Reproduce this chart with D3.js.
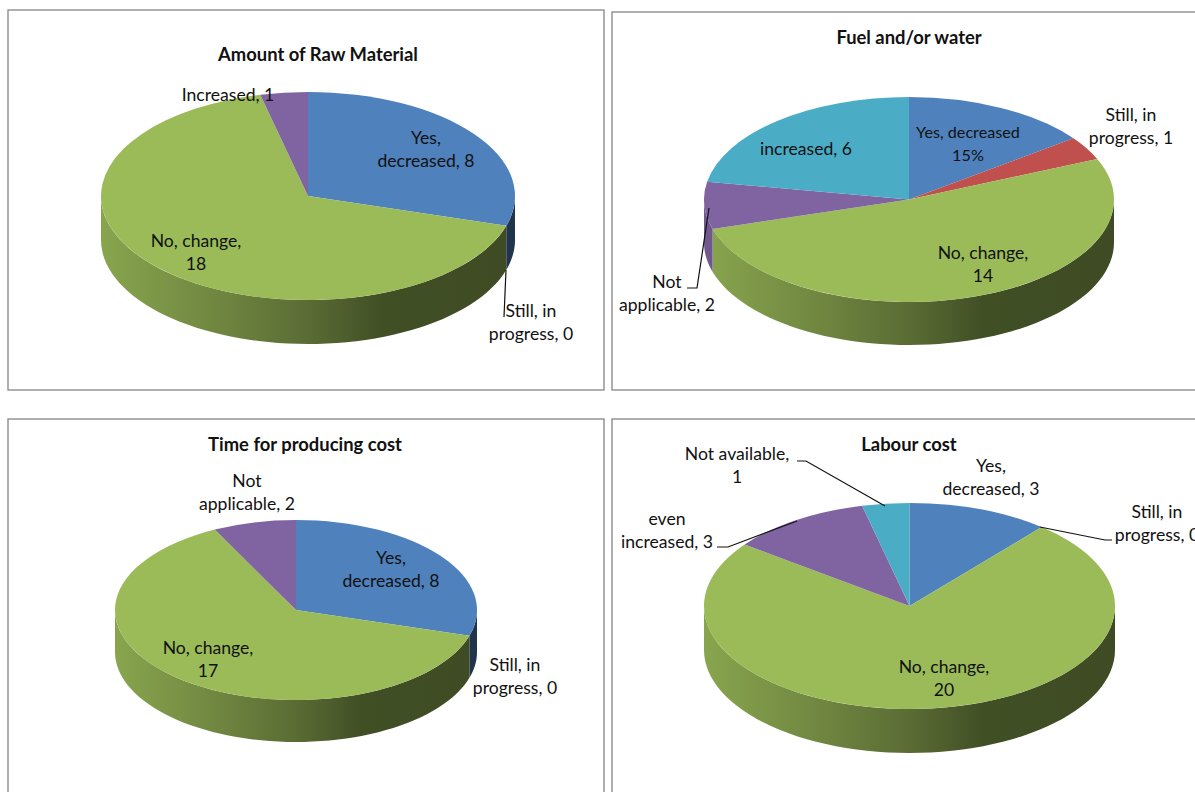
<!DOCTYPE html>
<html><head><meta charset="utf-8">
<script src="https://cdn.jsdelivr.net/npm/d3@7"></script>
<style>html,body{margin:0;padding:0;background:#fff;overflow:hidden}svg{display:block}text{font-family:Lato,"Noto Sans",sans-serif;fill:#111}</style>
</head><body>
<svg id="c" width="1195" height="792"></svg>
<script>
// ---- data ----
const titles = ["Amount of Raw Material", "Fuel and/or water", "Time for producing cost", "Labour cost"];
const categories1 = ["Yes, decreased", "Still, in progress", "No, change", "Increased"];
const values1 = [8, 0, 18, 1];
const categories2 = ["Yes, decreased", "Still, in progress", "No, change", "Not applicable", "increased"];
const values2 = [4, 1, 14, 2, 6];
const categories3 = ["Yes, decreased", "Still, in progress", "No, change", "Not applicable"];
const values3 = [8, 0, 17, 2];
const categories4 = ["Yes, decreased", "Still, in progress", "No, change", "even increased", "Not available"];
const values4 = [3, 0, 20, 3, 1];
const labels1 = [["Yes,", "decreased, 8"], ["Still, in", "progress, 0"], ["No, change,", "18"], ["Increased, 1"]];
const labels2 = [["Yes, decreased", "15%"], ["Still, in", "progress, 1"], ["No, change,", "14"], ["Not", "applicable, 2"], ["increased, 6"]];
const labels3 = [["Yes,", "decreased, 8"], ["Still, in", "progress, 0"], ["No, change,", "17"], ["Not", "applicable, 2"]];
const labels4 = [["Yes,", "decreased, 3"], ["Still, in", "progress, 0"], ["No, change,", "20"], ["even", "increased, 3"], ["Not available,", "1"]];
const sliceColors1 = ["#4f81bd", "#c0504d", "#9bbb59", "#8064a2"];
const sliceColors2 = ["#4f81bd", "#c0504d", "#9bbb59", "#8064a2", "#4bacc6"];

// ---- layout ----
const panels = [
 {box:[8,10,596,380], cx:308, cy:196, rx:207, ry:104, depth:44, title:[318,61], cats:categories1, vals:values1, labels:labels1, colors:sliceColors1,
  pos:[[426,144],[531,317],[196,247],[228,101]],
  leaders:[[[506,270],[504,317]]]},
 {box:[612,12,600,378], cx:909, cy:199.5, rx:205, ry:102.5, depth:43, title:[909,44], cats:categories2, vals:values2, labels:labels2, colors:sliceColors2,
  pos:[[968,138,16.2],[1131,121],[983,259],[667,288],[806,155]],
  leaders:[[[709,208],[697,288],[687,288]]]},
 {box:[8,419,596,400], cx:296, cy:610, rx:181, ry:90, depth:42, title:[305,451], cats:categories3, vals:values3, labels:labels3, colors:sliceColors1,
  pos:[[391,564],[515,671],[208,654],[247,487]],
  leaders:[]},
 {box:[612,419,600,400], cx:909.5, cy:606, rx:205.5, ry:103, depth:44, title:[909,451], cats:categories4, vals:values4, labels:labels4, colors:sliceColors2,
  pos:[[991,472],[1157,518],[944,673],[667,525],[737,460]],
  leaders:[[[1040,527],[1105,540],[1112,540]],[[717,547],[728,547],[797,521]],[[797,461],[806,461],[885,506]]]}
];

const svg = d3.select("#c");
const defs = svg.append("defs");
const pie = d3.pie().sort(null).value(d => d);
const HALF = Math.PI;

function shade(col, k){ const c = d3.rgb(col); return d3.rgb(c.r*k, c.g*k, c.b*k).formatHex(); }

panels.forEach((p, pi) => {
  const g = svg.append("g");
  g.append("rect").attr("x",p.box[0]).attr("y",p.box[1]).attr("width",p.box[2]).attr("height",p.box[3])
    .attr("fill","#fff").attr("stroke","#8e8e8e").attr("stroke-width",1.4);

  const arcs = pie(p.vals);
  const X = a => p.cx + p.rx*Math.sin(a);
  const Y = a => p.cy - p.ry*Math.cos(a);

  // side wall: only the part of each slice facing the viewer (90deg..270deg)
  const sideG = g.append("g");
  arcs.forEach((s, i) => {
    const a0 = Math.max(s.startAngle, HALF/2), a1 = Math.min(s.endAngle, HALF*1.5);
    if (a1 <= a0) return;
    const id = `g${pi}_${i}`;
    const col = p.colors[i];
    const lg = defs.append("linearGradient").attr("id",id).attr("gradientUnits","userSpaceOnUse")
      .attr("x1",p.cx-p.rx).attr("x2",p.cx+p.rx).attr("y1",0).attr("y2",0);
    [[0,.88],[.25,.74],[.5,.58],[.68,.42],[1,.40]].forEach(([o,k]) =>
      lg.append("stop").attr("offset",o).attr("stop-color",shade(col,k)));
    const ang = d3.range(0,61).map(t => a0 + (a1-a0)*t/60);
    const top = ang.map(a => [X(a),Y(a)]);
    const bot = ang.slice().reverse().map(a => [X(a),Y(a)+p.depth]);
    sideG.append("path").attr("d", d3.line()(top.concat(bot))+"Z").attr("fill",`url(#${id})`);
  });

  // top face: d3.arc squashed into the ellipse
  const arc = d3.arc().innerRadius(0).outerRadius(p.rx);
  g.append("g").attr("transform",`translate(${p.cx},${p.cy}) scale(1,${p.ry/p.rx})`)
    .selectAll("path").data(arcs).join("path")
    .attr("d",arc).attr("fill",(d,i)=>p.colors[i]);

  // leader lines
  p.leaders.forEach(l => g.append("path").attr("d",d3.line()(l)).attr("fill","none").attr("stroke","#111").attr("stroke-width",1.2));

  // title
  g.append("text").attr("x",p.title[0]).attr("y",p.title[1]).attr("text-anchor","middle")
    .attr("font-size",18.4).attr("font-weight",700).text(titles[pi]);

  // labels
  p.labels.forEach((lines,i) => {
    const t = g.append("text").attr("text-anchor","middle").attr("font-size",p.pos[i][2] || 17.6);
    lines.forEach((ln,j) => t.append("tspan").attr("x",p.pos[i][0]).attr("y",p.pos[i][1]+j*23).text(ln));
  });
});
</script>
</body></html>
